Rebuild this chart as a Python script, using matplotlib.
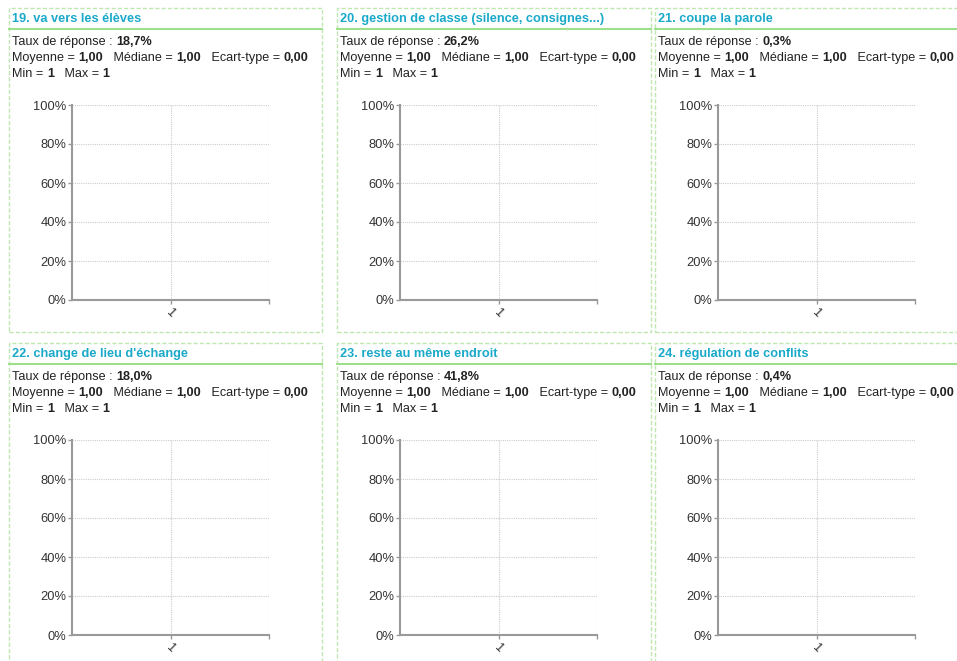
import matplotlib
matplotlib.use("Agg")
import matplotlib.pyplot as plt
from matplotlib.patches import Rectangle
from matplotlib.lines import Line2D

plt.rcParams['font.family'] = ['Liberation Sans', 'DejaVu Sans']

# Données des questions
titres = ["19. va vers les élèves",
          "20. gestion de classe (silence, consignes...)",
          "21. coupe la parole",
          "22. change de lieu d'échange",
          "23. reste au même endroit",
          "24. régulation de conflits"]
taux = ["18,7%", "26,2%", "0,3%", "18,0%", "41,8%", "0,4%"]
moyenne = ["1,00"] * 6
mediane = ["1,00"] * 6
ecart = ["0,00"] * 6
mini = ["1"] * 6
maxi = ["1"] * 6
categories = ["1"]
yticks = [0, 20, 40, 60, 80, 100]

W, H = 957, 661
fig = plt.figure(figsize=(W / 100, H / 100), dpi=100)
fig.canvas.draw()
renderer = fig.canvas.get_renderer()

def fx(px):
    return px / W

def fy(py):
    return 1 - py / H

def ligne(x, y, segments):
    # écrit des morceaux de texte normal / gras les uns après les autres
    for s, gras in segments:
        t = fig.text(fx(x), fy(y), s, fontsize=9.05, color='#222222',
                     fontweight='bold' if gras else 'normal', va='center')
        bb = t.get_window_extent(renderer)
        x += bb.width

bords_x = [9, 337, 655]
bords_y = [8, 343]
largeur = [313, 314, 330]

for i in range(6):
    col, row = i % 3, i // 3
    x0 = bords_x[col]
    y0 = bords_y[row]
    w = largeur[col]
    # cadre pointillé
    fig.patches.append(Rectangle((fx(x0), fy(y0 + 324)), w / W, 324 / H,
                                 transform=fig.transFigure, fill=False,
                                 edgecolor='#bfe8b0', linestyle=(0, (3, 1.5)),
                                 linewidth=1.0))
    # ligne sous le titre
    fig.lines.append(Line2D([fx(x0), fx(x0 + w)], [fy(y0 + 21), fy(y0 + 21)],
                            transform=fig.transFigure, color='#9ee08a', linewidth=1.5))
    fig.text(fx(x0 + 3), fy(y0 + 11), titres[i], fontsize=9.2, fontweight='bold',
             color='#1aa9c9', va='center')
    ligne(x0 + 3, y0 + 34, [("Taux de réponse : ", False), (taux[i], True)])
    ligne(x0 + 3, y0 + 50, [("Moyenne = ", False), (moyenne[i], True),
                            ("   Médiane = ", False), (mediane[i], True),
                            ("   Ecart-type = ", False), (ecart[i], True)])
    ligne(x0 + 3, y0 + 66, [("Min = ", False), (mini[i], True),
                            ("   Max = ", False), (maxi[i], True)])

    # zone du graphique
    ax_l = x0 + 63
    ax_t = y0 + 97
    ax = fig.add_axes([fx(ax_l), fy(ax_t + 195), 197 / W, 195 / H])
    ax.set_xlim(0, 2 * len(categories))
    ax.set_ylim(0, 100)
    ax.set_yticks(yticks)
    ax.set_yticklabels([f"{v}%" for v in yticks])
    ax.set_xticks([1, 2])
    ax.set_xticklabels(categories + [""], rotation=-45, ha='center')
    for s in ['top', 'right']:
        ax.spines[s].set_visible(False)
    for s in ['left', 'bottom']:
        ax.spines[s].set_color('#999999')
        ax.spines[s].set_linewidth(1.5)
    ax.tick_params(axis='both', colors='#999999', labelcolor='#333333',
                   labelsize=9.3, length=3, width=1)
    ax.tick_params(axis='y', pad=1)
    ax.tick_params(axis='x', pad=2)
    ax.grid(True, color='#cccccc', linestyle=(0, (1, 1)), linewidth=0.8)
    ax.set_axisbelow(True)

fig.savefig("out.png", dpi=100)
